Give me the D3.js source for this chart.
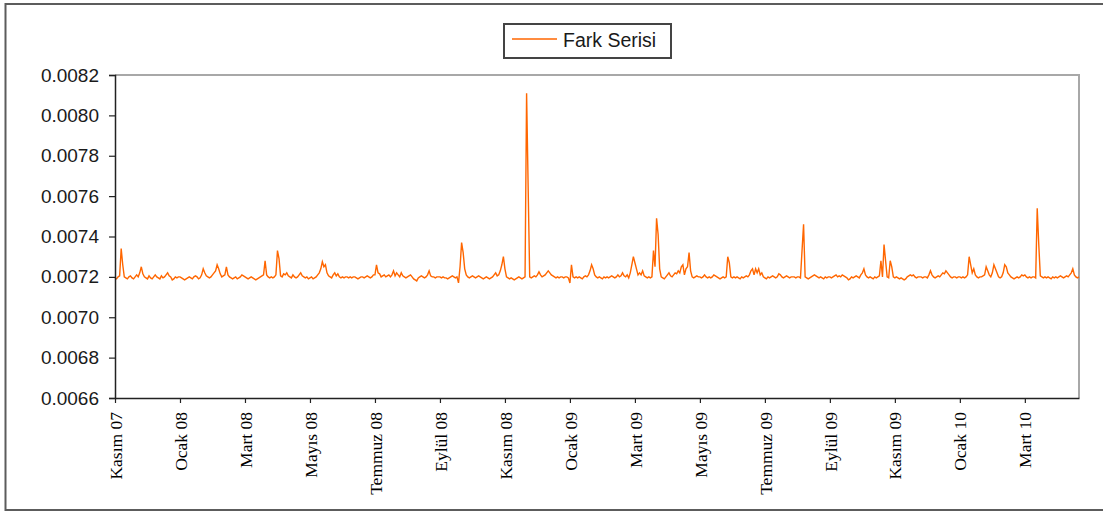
<!DOCTYPE html>
<html>
<head>
<meta charset="utf-8">
<script src="https://cdn.jsdelivr.net/npm/d3@7"></script>
<style>
  html, body { margin: 0; padding: 0; background: #fff; }
  svg { display: block; }
</style>
</head>
<body>
<svg id="chart" width="1103" height="513"></svg>
<script>
// Daily "Fark Serisi" values, one array per two-month block (42 trading days each)
const kasim07 = [
  0.007195, 0.00719, 0.0072, 0.007205, 0.00734, 0.00726, 0.0072,
  0.007195, 0.00719, 0.0072, 0.007205, 0.007195, 0.00719, 0.0072,
  0.00721, 0.0072, 0.00722, 0.00725, 0.007215, 0.0072, 0.007195,
  0.00719, 0.007205, 0.007195, 0.00719, 0.0072, 0.00721, 0.0072,
  0.007195, 0.00719, 0.007205, 0.007195, 0.0072, 0.00721, 0.00722,
  0.007205, 0.0072, 0.007185, 0.00719, 0.0072, 0.007195, 0.0072
];
const ocak08 = [
  0.0072, 0.007195, 0.00719, 0.007185, 0.00719, 0.007195, 0.0072,
  0.007195, 0.00719, 0.0072, 0.007205, 0.0072, 0.00719, 0.007195,
  0.00721, 0.00724, 0.00722, 0.007205, 0.0072, 0.007195, 0.0072,
  0.00721, 0.00722, 0.00723, 0.00726, 0.00724, 0.007215, 0.0072,
  0.007205, 0.00721, 0.00725, 0.00721, 0.0072, 0.007195, 0.00719,
  0.007195, 0.0072, 0.00719, 0.007195, 0.0072, 0.00721, 0.007205
];
const mart08 = [
  0.0072, 0.007195, 0.00719, 0.007195, 0.0072, 0.007195, 0.00719,
  0.007185, 0.00719, 0.007195, 0.0072, 0.007205, 0.00721, 0.00728,
  0.00721, 0.0072, 0.007195, 0.0072, 0.007195, 0.0072, 0.00721,
  0.00733, 0.00729, 0.007205, 0.0072, 0.007215, 0.00721, 0.00722,
  0.007205, 0.0072, 0.007195, 0.00721, 0.0072, 0.007195, 0.0072,
  0.00721, 0.00722, 0.007205, 0.0072, 0.007195, 0.0072, 0.00719
];
const mayis08 = [
  0.007195, 0.0072, 0.00719, 0.007195, 0.0072, 0.00721, 0.00722,
  0.00724, 0.007275, 0.00725, 0.00726, 0.00722, 0.007205, 0.0072,
  0.007195, 0.00721, 0.00722, 0.007205, 0.007215, 0.0072, 0.007195,
  0.0072, 0.007195, 0.0072, 0.0072, 0.007195, 0.0072, 0.007195,
  0.0072, 0.0072, 0.007195, 0.00719, 0.007195, 0.0072, 0.0072,
  0.007195, 0.0072, 0.007205, 0.0072, 0.007195, 0.0072, 0.00721
];
const temmuz08 = [
  0.00721, 0.00726, 0.00722, 0.007215, 0.0072, 0.007205, 0.00721,
  0.0072, 0.007205, 0.00721, 0.0072, 0.00721, 0.00723, 0.007205,
  0.00722, 0.00721, 0.0072, 0.00722, 0.007205, 0.0072, 0.007195,
  0.0072, 0.007205, 0.00721, 0.0072, 0.00719, 0.007185, 0.00718,
  0.007195, 0.0072, 0.007205, 0.0072, 0.007195, 0.0072, 0.00721,
  0.00723, 0.007205, 0.0072, 0.0072, 0.007195, 0.0072, 0.0072
];
const eylul08 = [
  0.0072, 0.007195, 0.0072, 0.007195, 0.007195, 0.00719, 0.007195,
  0.0072, 0.007205, 0.0072, 0.007195, 0.0072, 0.00717, 0.00725,
  0.00737, 0.00732, 0.00724, 0.00721, 0.0072, 0.007195, 0.0072,
  0.007205, 0.0072, 0.007195, 0.0072, 0.007205, 0.0072, 0.007195,
  0.00719, 0.007195, 0.0072, 0.007195, 0.00719, 0.007195, 0.0072,
  0.00721, 0.00722, 0.007205, 0.00721, 0.00723, 0.00726, 0.0073
];
const kasim08 = [
  0.00724, 0.0072, 0.007195, 0.00719, 0.007195, 0.00719, 0.007185,
  0.00719, 0.007195, 0.0072, 0.007195, 0.00719, 0.007195, 0.0072,
  0.00811, 0.007645, 0.0072, 0.007195, 0.0072, 0.007205, 0.0072,
  0.00721, 0.007225, 0.00721, 0.0072, 0.007205, 0.00721, 0.00722,
  0.00723, 0.00722, 0.00721, 0.007205, 0.0072, 0.007195, 0.0072,
  0.007195, 0.0072, 0.0072, 0.007195, 0.0072, 0.0072, 0.007195
];
const ocak09 = [
  0.00717, 0.00726, 0.0072, 0.007195, 0.0072, 0.007195, 0.0072,
  0.007195, 0.00719, 0.0072, 0.007205, 0.0072, 0.00721, 0.00723,
  0.00726, 0.00724, 0.00721, 0.0072, 0.007195, 0.0072, 0.007195,
  0.00719, 0.0072, 0.007195, 0.0072, 0.007195, 0.0072, 0.007205,
  0.0072, 0.007195, 0.0072, 0.00721, 0.0072, 0.007205, 0.00722,
  0.007205, 0.0072, 0.00721, 0.007195, 0.00722, 0.00726, 0.0073
];
const mart09 = [
  0.00727, 0.00724, 0.00721, 0.00722, 0.00721, 0.00723, 0.007205,
  0.0072, 0.007195, 0.0072, 0.007195, 0.0072, 0.00733, 0.00725,
  0.00749, 0.00741, 0.00724, 0.0072, 0.007195, 0.00719, 0.0072,
  0.00721, 0.00722, 0.007205, 0.0072, 0.00721, 0.00722, 0.007215,
  0.00723, 0.00722, 0.00725, 0.00726, 0.00721, 0.00724, 0.00725,
  0.00732, 0.00723, 0.0072, 0.007195, 0.0072, 0.007205, 0.0072
];
const mayis09 = [
  0.0072, 0.007195, 0.0072, 0.00721, 0.0072, 0.007195, 0.0072,
  0.007195, 0.0072, 0.00721, 0.007205, 0.0072, 0.007195, 0.00719,
  0.007195, 0.0072, 0.007195, 0.0072, 0.0073, 0.00727, 0.0072,
  0.007195, 0.0072, 0.007195, 0.0072, 0.007195, 0.00719, 0.0072,
  0.007195, 0.0072, 0.007205, 0.0072, 0.00721, 0.00723, 0.00724,
  0.00721, 0.00724, 0.00722, 0.00724, 0.00721, 0.00722, 0.0072
];
const temmuz09 = [
  0.007195, 0.00719, 0.0072, 0.007195, 0.0072, 0.007205, 0.0072,
  0.007195, 0.0072, 0.007215, 0.00721, 0.0072, 0.007195, 0.0072,
  0.007205, 0.0072, 0.007195, 0.0072, 0.0072, 0.0072, 0.007195,
  0.0072, 0.0072, 0.007195, 0.00733, 0.00746, 0.0072, 0.007195,
  0.00719, 0.007195, 0.0072, 0.007205, 0.00721, 0.007205, 0.0072,
  0.007195, 0.0072, 0.007195, 0.00719, 0.0072, 0.007195, 0.0072
];
const eylul09 = [
  0.0072, 0.007195, 0.0072, 0.007205, 0.00721, 0.0072, 0.007205,
  0.0072, 0.00721, 0.007205, 0.0072, 0.007195, 0.007185, 0.00719,
  0.0072, 0.007195, 0.0072, 0.007205, 0.0072, 0.007195, 0.00721,
  0.00722, 0.00724, 0.00721, 0.0072, 0.007195, 0.0072, 0.007195,
  0.00719, 0.0072, 0.007195, 0.0072, 0.007205, 0.00728, 0.0072,
  0.00736, 0.00728, 0.0072, 0.007195, 0.00728, 0.00725, 0.0072
];
const kasim09 = [
  0.007195, 0.0072, 0.007195, 0.00719, 0.007195, 0.00719, 0.007185,
  0.00719, 0.0072, 0.007205, 0.00721, 0.007205, 0.00721, 0.0072,
  0.007195, 0.0072, 0.0072, 0.0072, 0.007195, 0.0072, 0.0072,
  0.007195, 0.00721, 0.00723, 0.00721, 0.0072, 0.007195, 0.0072,
  0.007205, 0.0072, 0.00721, 0.00722, 0.007215, 0.00723, 0.00722,
  0.00721, 0.0072, 0.007195, 0.0072, 0.0072, 0.007195, 0.0072
];
const ocak10 = [
  0.0072, 0.007195, 0.0072, 0.007195, 0.0072, 0.00721, 0.0073,
  0.00726, 0.00722, 0.00724, 0.00721, 0.0072, 0.007195, 0.0072,
  0.0072, 0.007205, 0.00721, 0.00725, 0.00723, 0.00721, 0.0072,
  0.00722, 0.00726, 0.00724, 0.00722, 0.0072, 0.007195, 0.0072,
  0.00722, 0.00726, 0.00725, 0.00722, 0.00721, 0.0072, 0.007195,
  0.00719, 0.007195, 0.0072, 0.007195, 0.0072, 0.00721, 0.007205
];
const mart10 = [
  0.00721, 0.0072, 0.007195, 0.0072, 0.007195, 0.0072, 0.0072,
  0.007195, 0.00754, 0.00736, 0.007205, 0.0072, 0.007195, 0.0072,
  0.007195, 0.0072, 0.007195, 0.00719, 0.0072, 0.007195, 0.0072,
  0.007195, 0.0072, 0.007205, 0.0072, 0.007195, 0.0072, 0.007205,
  0.0072, 0.00721, 0.00722, 0.00724, 0.00721, 0.0072, 0.007195, 0.0072
];

// Axis labels
const monthLabels = [
  "Kasım 07", "Ocak 08", "Mart 08", "Mayıs 08", "Temmuz 08", "Eylül 08",
  "Kasım 08", "Ocak 09", "Mart 09", "Mayıs 09", "Temmuz 09", "Eylül 09",
  "Kasım 09", "Ocak 10", "Mart 10"
];
const yTickValues = [0.0066, 0.0068, 0.0070, 0.0072, 0.0074, 0.0076, 0.0078, 0.0080, 0.0082];
const seriesName = "Fark Serisi";
const daysPerLabel = 42;

const values = [].concat(kasim07, ocak08, mart08, mayis08, temmuz08, eylul08,
  kasim08, ocak09, mart09, mayis09, temmuz09, eylul09, kasim09, ocak10, mart10);

const svg = d3.select("#chart");
const plot = { left: 115, top: 75, right: 1079, bottom: 398 };
const lineColor = "#ff6600";

// Outer chart frame (runs past the right edge)
svg.append("rect")
  .attr("x", 5.5).attr("y", 4)
  .attr("width", 1120).attr("height", 506)
  .attr("fill", "#fff")
  .attr("stroke", "#5c5c5c")
  .attr("stroke-width", 2);

const x = d3.scaleLinear().domain([0, values.length - 1]).range([plot.left, plot.right]);
const y = d3.scaleLinear().domain([0.0066, 0.0082]).range([plot.bottom, plot.top]);

// Plot area border (top and right)
svg.append("path")
  .attr("d", `M${plot.left},${plot.top}H${plot.right}V${plot.bottom}`)
  .attr("fill", "none")
  .attr("stroke", "#a8a8a8")
  .attr("stroke-width", 2);

// Series line
const line = d3.line()
  .x((d, i) => x(i))
  .y(d => y(d));

svg.append("path")
  .datum(values)
  .attr("d", line)
  .attr("fill", "none")
  .attr("stroke", lineColor)
  .attr("stroke-width", 1.4)
  .attr("stroke-linejoin", "miter");

// Y axis
const yAxis = d3.axisLeft(y)
  .tickValues(yTickValues)
  .tickFormat(d3.format(".4f"))
  .tickSize(6)
  .tickPadding(10);

const gy = svg.append("g")
  .attr("transform", `translate(${plot.left},0)`)
  .call(yAxis);
gy.select(".domain").attr("stroke", "#222").attr("stroke-width", 1.5);
gy.selectAll(".tick line").attr("stroke", "#222").attr("stroke-width", 1.2);
gy.selectAll(".tick text")
  .attr("font-family", "'Liberation Sans', Arial, sans-serif")
  .attr("font-size", 19)
  .attr("fill", "#1a1a1a");

// X axis: one labelled tick every two months
const xTicks = monthLabels.map((_, i) => i * daysPerLabel);
const xAxis = d3.axisBottom(x)
  .tickValues(xTicks)
  .tickFormat((d, i) => monthLabels[i])
  .tickSize(5)
  .tickSizeOuter(0);

const gx = svg.append("g")
  .attr("transform", `translate(0,${plot.bottom})`)
  .call(xAxis);
gx.select(".domain").attr("stroke", "#222").attr("stroke-width", 1.5);
gx.selectAll(".tick line").attr("stroke", "#222").attr("stroke-width", 1.2);
gx.selectAll(".tick text")
  .attr("font-family", "'Liberation Serif', 'Times New Roman', serif")
  .attr("font-size", 17.5)
  .attr("fill", "#000")
  .attr("text-anchor", "end")
  .attr("y", 0)
  .attr("dy", "0.35em")
  .attr("transform", "translate(0,14) rotate(-90)");

// Legend
const legend = svg.append("g").attr("transform", "translate(504,24)");
legend.append("rect")
  .attr("x", 0).attr("y", 0)
  .attr("width", 167).attr("height", 34)
  .attr("fill", "#fff")
  .attr("stroke", "#444")
  .attr("stroke-width", 2);
legend.append("line")
  .attr("x1", 8).attr("x2", 53)
  .attr("y1", 15).attr("y2", 15)
  .attr("stroke", lineColor)
  .attr("stroke-width", 1.5);
legend.append("text")
  .attr("x", 59).attr("y", 23)
  .attr("font-family", "'Liberation Sans', Arial, sans-serif")
  .attr("font-size", 19.5)
  .attr("fill", "#1a1a1a")
  .text(seriesName);
</script>
</body>
</html>
